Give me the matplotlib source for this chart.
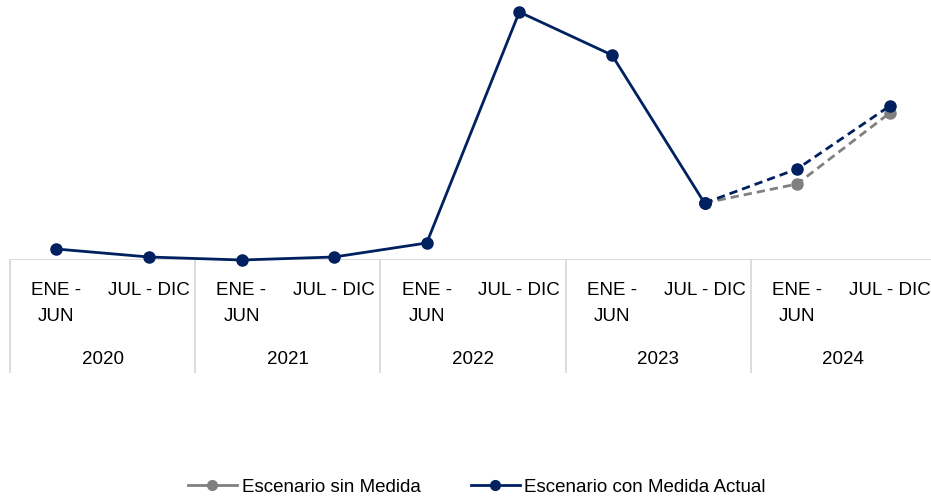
import matplotlib
matplotlib.use("Agg")
import matplotlib.pyplot as plt
from matplotlib.lines import Line2D
from matplotlib.transforms import blended_transform_factory

plt.rcParams['font.family'] = ['Liberation Sans', 'DejaVu Sans']

# Data (relative values; the original has no y axis)
periods = ['ENE -\nJUN', 'JUL - DIC'] * 5
years = ['2020', '2021', '2022', '2023', '2024']
con_medida = [11, 3, 0, 3, 17, 248, 205, 57, 91, 154]
sin_medida = [57, 76, 147]          # 2023 JUL-DIC .. 2024 JUL-DIC
proj_start = 7                      # projection starts here (dashed)

NAVY = '#002060'
GRAY = '#808080'
SEP = '#d9d9d9'

fig = plt.figure(figsize=(9.31, 4.98), dpi=100)
ax = fig.add_axes([10 / 931, (498 - 260) / 498, 921 / 931, 260 / 498])
ax.set_xlim(-0.5, -0.5 + 921 / 92.6)
ax.set_ylim(0, 260)

x = list(range(len(con_medida)))
x_sin = x[proj_start:]

# Gray scenario (behind)
ax.plot(x_sin, sin_medida, color=GRAY, lw=2, dashes=(3, 1.8),
        marker='o', ms=8, clip_on=False, zorder=3)
# Navy: solid history, dashed projection
ax.plot(x[:proj_start + 1], con_medida[:proj_start + 1], color=NAVY, lw=2,
        marker='o', ms=8, clip_on=False, zorder=4)
ax.plot(x[proj_start:], con_medida[proj_start:], color=NAVY, lw=2,
        dashes=(3, 1.8), marker='o', ms=8, clip_on=False, zorder=4)

for s in ax.spines.values():
    s.set_visible(False)
ax.set_yticks([])
ax.set_xticks(x)
ax.set_xticklabels(periods, fontsize=13.5, linespacing=1.7, va='top')
ax.tick_params(axis='x', length=0, pad=16)

# Axis line and category separators
ax.axhline(0, color=SEP, lw=1.3, zorder=1)
trans = blended_transform_factory(ax.transData, fig.transFigure)
for k in range(len(years) + 1):
    xb = -0.5 + 2 * k
    ax.plot([xb, xb], [(498 - 260) / 498, (498 - 372) / 498], color=SEP,
            lw=1.3, transform=trans, clip_on=False, zorder=1)
for k, yr in enumerate(years):
    ax.text(2 * k + 0.5, (498 - 359) / 498, yr, transform=trans,
            ha='center', va='center', fontsize=13.5)

handles = [
    Line2D([], [], color=GRAY, lw=2, marker='o', ms=7),
    Line2D([], [], color=NAVY, lw=2, marker='o', ms=7),
]
fig.legend(handles, ['Escenario sin Medida', 'Escenario con Medida Actual'],
           loc='center', bbox_to_anchor=(477 / 931, 11 / 498), ncol=2,
           frameon=False, fontsize=13.5, handlelength=2.6,
           handletextpad=0.25, columnspacing=2.7)

fig.savefig('out.png', dpi=100)
